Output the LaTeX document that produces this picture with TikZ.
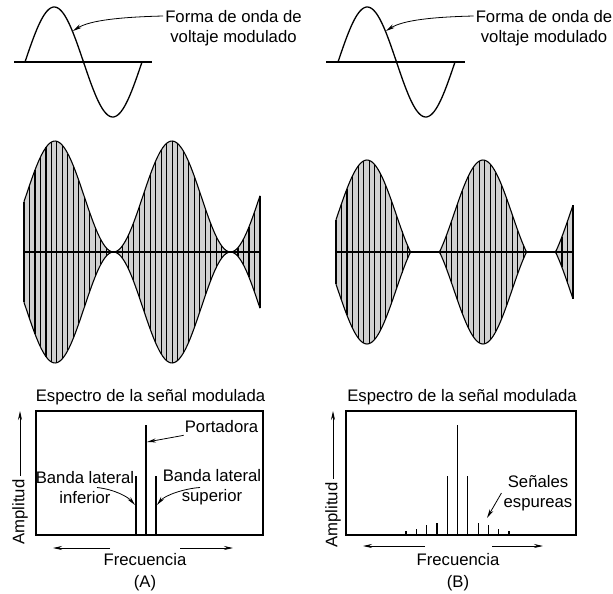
\documentclass[tikz,border=0pt]{standalone}
\usepackage{fontspec}
\setmainfont{Liberation Sans}
\usetikzlibrary{positioning,arrows.meta}

\begin{document}
\begin{tikzpicture}[
    x=1pt, y=-1pt,
    font=\fontsize{16.7}{20}\selectfont,
    wave/.style={line width=1.3pt},
    axisln/.style={line width=1.2pt},
    carrier/.style={line width=1.1pt},
    envln/.style={line width=1.1pt},
    specbox/.style={line width=1.2pt},
    spec/.style={line width=1.2pt},
    flow/.style={-{Stealth[length=9pt, width=4pt]}, line width=0.8pt},
    lbl/.style={align=center, inner sep=2pt},
  ]
  \useasboundingbox (0,0) rectangle (613,594);

  % (A) onda moduladora
  \draw[axisln] (14,62) -- (152,62);
  \draw[wave] plot[domain=25:142, samples=80, smooth] (\x,{62-55*sin((\x-25)/117*360)});
  \node[lbl] (formaA) at (233.5,28) {Forma de onda de\\voltaje modulado};
  \coordinate (ondaA) at (73,31);
  \draw[flow] ([yshift=12pt]formaA.west) .. controls +(-40,1) and +(17,-11) .. (ondaA);

  % (B) onda moduladora
  \draw[axisln] (326,62) -- (465,62);
  \draw[wave] plot[domain=338:455, samples=80, smooth] (\x,{62-55*sin((\x-338)/117*360)});
  \node[lbl] (formaB) at (544,28) {Forma de onda de\\voltaje modulado};
  \coordinate (ondaB) at (386,31);
  \draw[flow] ([yshift=12pt]formaB.west) .. controls +(-40,1) and +(17,-11) .. (ondaB);

  % (A) portadora modulada al 100 %
  \fill[black!18] plot[domain=24:260, samples=120] (\x,{252-55.5*(1+cos((\x-55)/117*360))})
    -- plot[domain=260:24, samples=120] (\x,{252+55.5*(1+cos((\x-55)/117*360))}) -- cycle;
  \foreach \i in {0,...,43} {
    \pgfmathsetmacro\xx{24+\i*236/43}
    \pgfmathsetmacro\ee{55.5*(1+cos((\xx-55)/117*360))}
    \draw[carrier] (\xx,{252-\ee}) -- (\xx,{252+\ee});
  }
  \draw[envln] plot[domain=24:260, samples=120, smooth] (\x,{252-55.5*(1+cos((\x-55)/117*360))});
  \draw[envln] plot[domain=24:260, samples=120, smooth] (\x,{252+55.5*(1+cos((\x-55)/117*360))});
  \draw[axisln] (24,252) -- (260,252);

  % (B) portadora sobremodulada
  \fill[black!18] plot[domain=336:573, samples=240] (\x,{252-max(0,38.1*(1+1.414*cos((\x-367)/116*360)))})
    -- plot[domain=573:336, samples=240] (\x,{252+max(0,38.1*(1+1.414*cos((\x-367)/116*360)))}) -- cycle;
  \foreach \i in {0,...,43} {
    \pgfmathsetmacro\xx{336+\i*237/43}
    \pgfmathsetmacro\ee{max(0,38.1*(1+1.414*cos((\xx-367)/116*360)))}
    \draw[carrier] (\xx,{252-\ee}) -- (\xx,{252+\ee});
  }
  \draw[envln] plot[domain=336:573, samples=240] (\x,{252-max(0,38.1*(1+1.414*cos((\x-367)/116*360)))});
  \draw[envln] plot[domain=336:573, samples=240] (\x,{252+max(0,38.1*(1+1.414*cos((\x-367)/116*360)))});
  \draw[axisln] (336,252) -- (573,252);

  % (A) espectro
  \node (titA) at (150.5,397) {Espectro de la señal modulada};
  \draw[specbox] (36,411) rectangle (263,535);
  \draw[spec] (146,535) -- (146,425);
  \draw[spec] (136,535) -- (136,476);
  \draw[spec] (156,535) -- (156,476);
  \node[lbl] (port) at (221.5,427) {Portadora};
  \node[lbl] (bInf) at (85,487.5) {Banda lateral\\inferior};
  \node[lbl] (bSup) at (212,487.5) {Banda lateral\\superior};
  \coordinate (pA) at (147,442);
  \coordinate (liA) at (135,505);
  \coordinate (lsA) at (157,505);
  \draw[flow] ([xshift=1pt]port.south west) -- (pA);
  \draw[flow] ([xshift=12pt]bInf.center) .. controls +(18,2) and +(-7,-8) .. (liA);
  \draw[flow] ([xshift=-12pt]bSup.center) .. controls +(-15,1) and +(8,-10) .. (lsA);
  \node[rotate=90] (ampA) at (20,512) {Amplitud};
  \coordinate (ampTopA) at (20,411);
  \draw[flow] (ampA.east) -- (ampTopA);
  \node (frecA) at (145,560) {Frecuencia};
  \coordinate (fLa) at (110,548);
  \coordinate (fLb) at (53,548);
  \coordinate (fRa) at (180,548);
  \coordinate (fRb) at (233,548);
  \draw[flow] (fLa) -- (fLb);
  \draw[flow] (fRa) -- (fRb);
  \node (capA) at (145,583) {(A)};

  % (B) espectro
  \node (titB) at (462,397) {Espectro de la señal modulada};
  \draw[specbox] (346,411) rectangle (576,535);
  \draw[spec] (457.5,535) -- (457.5,425);
  \foreach \k/\h in {1/59, 2/12, 3/10, 4/6, 5/4} {
    \draw[spec] (457.5-\k*10.3,535) -- ++(0,-\h);
    \draw[spec] (457.5+\k*10.3,535) -- ++(0,-\h);
  }
  \node[lbl] (sen) at (538,493) {Señales\\espureas};
  \coordinate (espB) at (487,518);
  \draw[flow] (sen.west) -- (espB);
  \node[rotate=90] (ampB) at (333,515) {Amplitud};
  \coordinate (ampTopB) at (333,411);
  \draw[flow] (ampB.east) -- (ampTopB);
  \node (frecB) at (458,560) {Frecuencia};
  \coordinate (gLa) at (425,546);
  \coordinate (gLb) at (363,546);
  \coordinate (gRa) at (492,546);
  \coordinate (gRb) at (543,546);
  \draw[flow] (gLa) -- (gLb);
  \draw[flow] (gRa) -- (gRb);
  \node (capB) at (458,583) {(B)};
\end{tikzpicture}
\end{document}
